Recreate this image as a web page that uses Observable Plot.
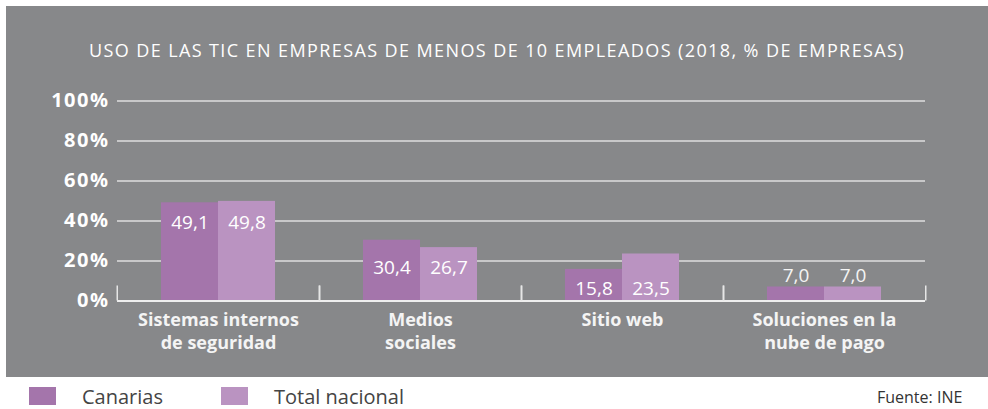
<!DOCTYPE html>
<html>
<head>
<meta charset="utf-8">
<script src="https://cdn.jsdelivr.net/npm/d3@7"></script>
<script src="https://cdn.jsdelivr.net/npm/@observablehq/plot@0.6"></script>
<style>
  html, body { margin: 0; padding: 0; background: #fff; width: 988px; height: 409px; overflow: hidden; font-family: "Open Sans", sans-serif; }
  #panel { position: absolute; left: 6px; top: 6px; width: 982px; height: 371px; background: #87888a; }
  #title { position: absolute; left: 0; width: 982px; top: 32px; text-align: center; color: #fff; font-size: 18px; line-height: 24px; letter-spacing: 1.4px; white-space: nowrap; }
  #chart { position: absolute; left: 0; top: 74px; }
  .leg { position: absolute; top: 384px; height: 24px; display: flex; align-items: center; font-size: 20px; color: #444; }
  .sw { width: 27px; height: 18px; margin-right: 26px; }
  #source { position: absolute; left: 877px; top: 389px; width: 100px; font-size: 16px; line-height: 16px; color: #333; white-space: nowrap; }
</style>
</head>
<body>
<div id="panel">
  <div id="title"></div>
  <div id="chart"></div>
</div>
<div id="legend"></div>
<div id="source"></div>
<script>
const title = "USO DE LAS TIC EN EMPRESAS DE MENOS DE 10 EMPLEADOS (2018, % DE EMPRESAS)";
const source = "Fuente: INE";
const categories = ["Sistemas internos\nde seguridad", "Medios\nsociales", "Sitio web", "Soluciones en la\nnube de pago"];
const series = ["Canarias", "Total nacional"];
const canarias = [49.1, 30.4, 15.8, 7.0];
const totalNacional = [49.8, 26.7, 23.5, 7.0];
const yTicks = [0, 20, 40, 60, 80, 100];
const colors = ["#a475ab", "#ba93c1"];

const data = [];
categories.forEach((c, i) => {
  const vals = [canarias[i], totalNacional[i]];
  const labelY = Math.min(...vals);
  vals.forEach((v, j) => data.push({category: c, series: series[j], value: v, labelY}));
});
const fmt = v => v.toFixed(1).replace(".", ",");

const W = 982, H = 297, mL = 110, mR = 62, mT = 20.5, mB = 76.5;
const facetW = (W - mL - mR) / categories.length;
const tickLen = 15;

const plot = Plot.plot({
  width: W, height: H,
  marginLeft: mL, marginRight: mR, marginTop: mT, marginBottom: mB,
  style: {background: "transparent", fontFamily: "Open Sans, sans-serif", overflow: "visible"},
  fx: {domain: categories, padding: 0, label: null},
  x: {domain: series, paddingInner: 0, paddingOuter: 0.77, axis: null},
  y: {domain: [0, 100], label: null},
  color: {domain: series, range: colors},
  marks: [
    Plot.ruleY(yTicks.filter(d => d > 0), {stroke: "#dedede", strokeWidth: 1.5}),
    Plot.barY(data, {fx: "category", x: "series", y: "value", fill: "series"}),
    Plot.ruleY([0], {stroke: "#eeeeee", strokeWidth: 2}),
    Plot.ruleX([0], {x: null, dx: -facetW / 2, insetTop: H - mT - mB - tickLen, stroke: "#e6e6e6", strokeWidth: 1.5}),
    Plot.ruleX([0], {x: null, dx: facetW / 2, insetTop: H - mT - mB - tickLen, stroke: "#e6e6e6", strokeWidth: 1.5}),
    Plot.text(data.filter(d => d.labelY >= 10), {fx: "category", x: "series", y: "labelY", text: d => fmt(d.value), dy: 20, fill: "#fff", fontSize: 19}),
    Plot.text(data.filter(d => d.labelY < 10), {fx: "category", x: "series", y: "value", text: d => fmt(d.value), dy: -11, fill: "#f4f4f4", fontSize: 19}),
    Plot.axisY({ticks: yTicks, tickFormat: d => d + "%", tickSize: 0, tickPadding: 8, fontSize: 20, fontWeight: "bold", fill: "#fff", label: null}),
    Plot.axisFx({anchor: "bottom", tickSize: 0, tickPadding: 8, fontSize: 18, fontWeight: "bold", fill: "#f4f4f4", lineHeight: 1.3, label: null})
  ]
});
plot.querySelectorAll("[aria-label='y-axis tick label'] text").forEach(t => t.setAttribute("letter-spacing", "1.5"));
document.getElementById("chart").appendChild(plot);
document.getElementById("title").textContent = title;
document.getElementById("source").textContent = source;

const legend = document.getElementById("legend");
const legX = [29, 221];
series.forEach((s, i) => {
  const el = document.createElement("div");
  el.className = "leg";
  el.style.left = legX[i] + "px";
  const sw = document.createElement("div");
  sw.className = "sw";
  sw.style.background = colors[i];
  el.appendChild(sw);
  el.appendChild(document.createTextNode(s));
  legend.appendChild(el);
});
</script>
</body>
</html>
